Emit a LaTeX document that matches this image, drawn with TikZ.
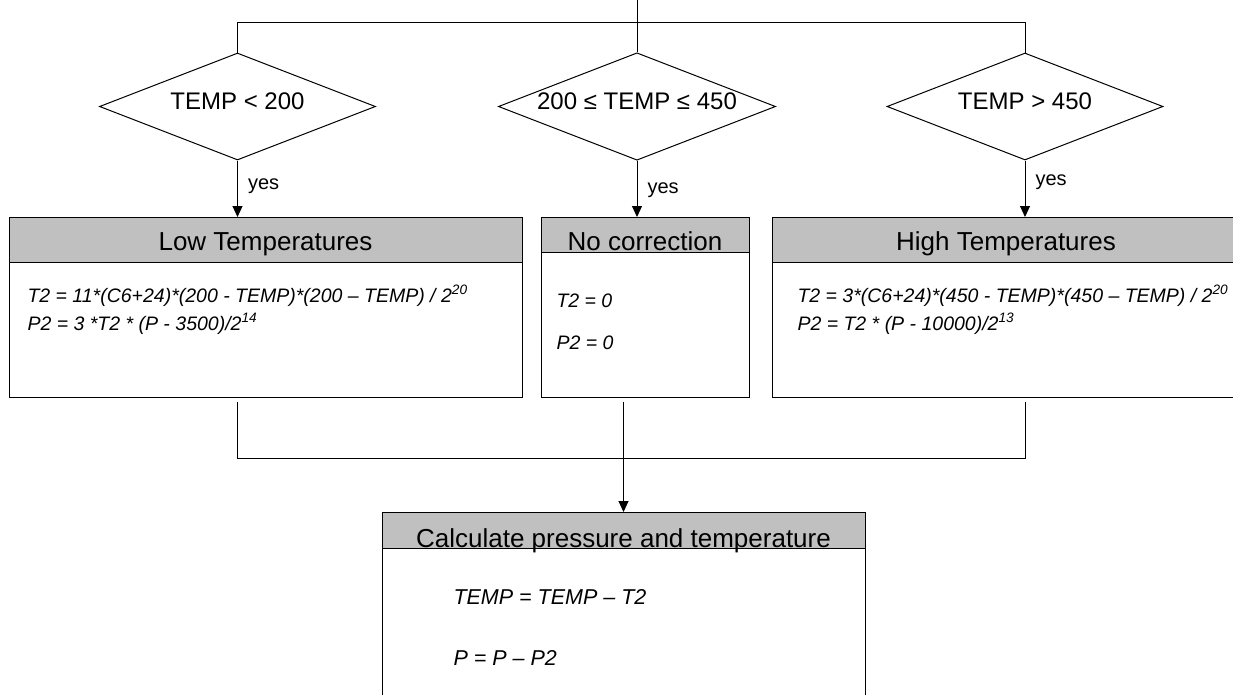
\documentclass[tikz,border=0pt]{standalone}
\usepackage{fontspec}
\setmainfont{Liberation Sans}
\usetikzlibrary{arrows.meta,shapes.geometric,positioning}
\definecolor{headgray}{RGB}{192,192,192}

\begin{document}
\begin{tikzpicture}[x=1pt,y=-1pt,>={Triangle[length=11pt,width=10pt]},
  line width=1pt,
  decision/.style={diamond,draw,aspect=2.58,minimum width=276pt,
    minimum height=107pt,inner sep=0pt,text height=18pt,text depth=12pt,
    font=\fontsize{24}{28}\selectfont},
  box/.style={rectangle,draw,anchor=north,inner sep=0pt},
  head/.style={rectangle,draw,fill=headgray,anchor=north,inner sep=0pt,
    text depth=0pt,font=\fontsize{26}{30}\selectfont},
  formula/.style={anchor=base west,inner sep=0pt,
    font=\fontsize{19.5}{23}\selectfont\itshape},
  bigformula/.style={formula,font=\fontsize{21.5}{26}\selectfont\itshape},
  yes/.style={right=10pt,inner sep=0pt,font=\fontsize{20}{24}\selectfont}]

  \useasboundingbox (0,0) rectangle (1233,694);
  \clip (0,0) rectangle (1233,694);

  % three tests on TEMP
  \coordinate (top) at (637,0);
  \node[decision] (lowcond) at (237.5,106.5) {TEMP < 200};
  \node[decision] (midcond) at (637,106.5) {200 ≤ TEMP ≤ 450};
  \node[decision] (highcond) at (1025,106.5) {TEMP > 450};

  % correction boxes
  \node[box,minimum width=513pt,minimum height=180pt] (lowbox) at (265.5,217) {};
  \node[head,minimum width=513pt,minimum height=45pt,text height=21pt]
    (lowhead) at (lowbox.north) {Low Temperatures};
  \node[formula] (lowT) at (27,302)
    {T2 = 11*(C6+24)*(200 - TEMP)*(200 – TEMP) / 2\textsuperscript{20}};
  \node[formula] (lowP) at (27,330) {P2 = 3 *T2 * (P - 3500)/2\textsuperscript{14}};

  \node[box,minimum width=208pt,minimum height=180pt] (nobox) at (645,217) {};
  \node[head,minimum width=208pt,minimum height=35pt,text height=31pt]
    (nohead) at (nobox.north) {No correction};
  \node[formula] (noT) at (556,307) {T2 = 0};
  \node[formula] (noP) at (556,349) {P2 = 0};

  \node[box,minimum width=468pt,minimum height=180pt] (highbox) at (1006,217) {};
  \node[head,minimum width=468pt,minimum height=45pt,text height=21pt]
    (highhead) at (highbox.north) {High Temperatures};
  \node[formula] (highT) at (797,302)
    {T2 = 3*(C6+24)*(450 - TEMP)*(450 – TEMP) / 2\textsuperscript{20}};
  \node[formula] (highP) at (797,330) {P2 = T2 * (P - 10000)/2\textsuperscript{13}};

  % final step
  \node[box,minimum width=483pt,minimum height=190pt] (calcbox) at (623.5,512) {};
  \node[head,minimum width=483pt,minimum height=36pt,text height=33pt]
    (calchead) at (calcbox.north) {Calculate pressure and temperature};
  \node[bigformula] (calcT) at (453,604) {TEMP = TEMP – T2};
  \node[bigformula] (calcP) at (453,665) {P = P – P2};

  \coordinate (join) at (623.5,458);

  \draw (top) -- (midcond.north);
  \draw (lowcond.north) -- ++(0,-30) -| (highcond.north);

  \path[->]
    (lowcond.south) edge node[yes,pos=0.46] {yes} (lowcond.south |- lowbox.north)
    (midcond.south) edge node[yes,pos=0.53] {yes} (midcond.south |- nobox.north)
    (highcond.south) edge node[yes,pos=0.39] {yes} (highcond.south |- highbox.north);

  \draw[shorten <=4pt,shorten >=4pt] (lowbox.south -| lowcond.south) |- (join)
    -| (highbox.south -| highcond.south);
  \draw[->,shorten <=4pt] (nobox.south -| calchead.north) -- (calchead.north);

\end{tikzpicture}
\end{document}
